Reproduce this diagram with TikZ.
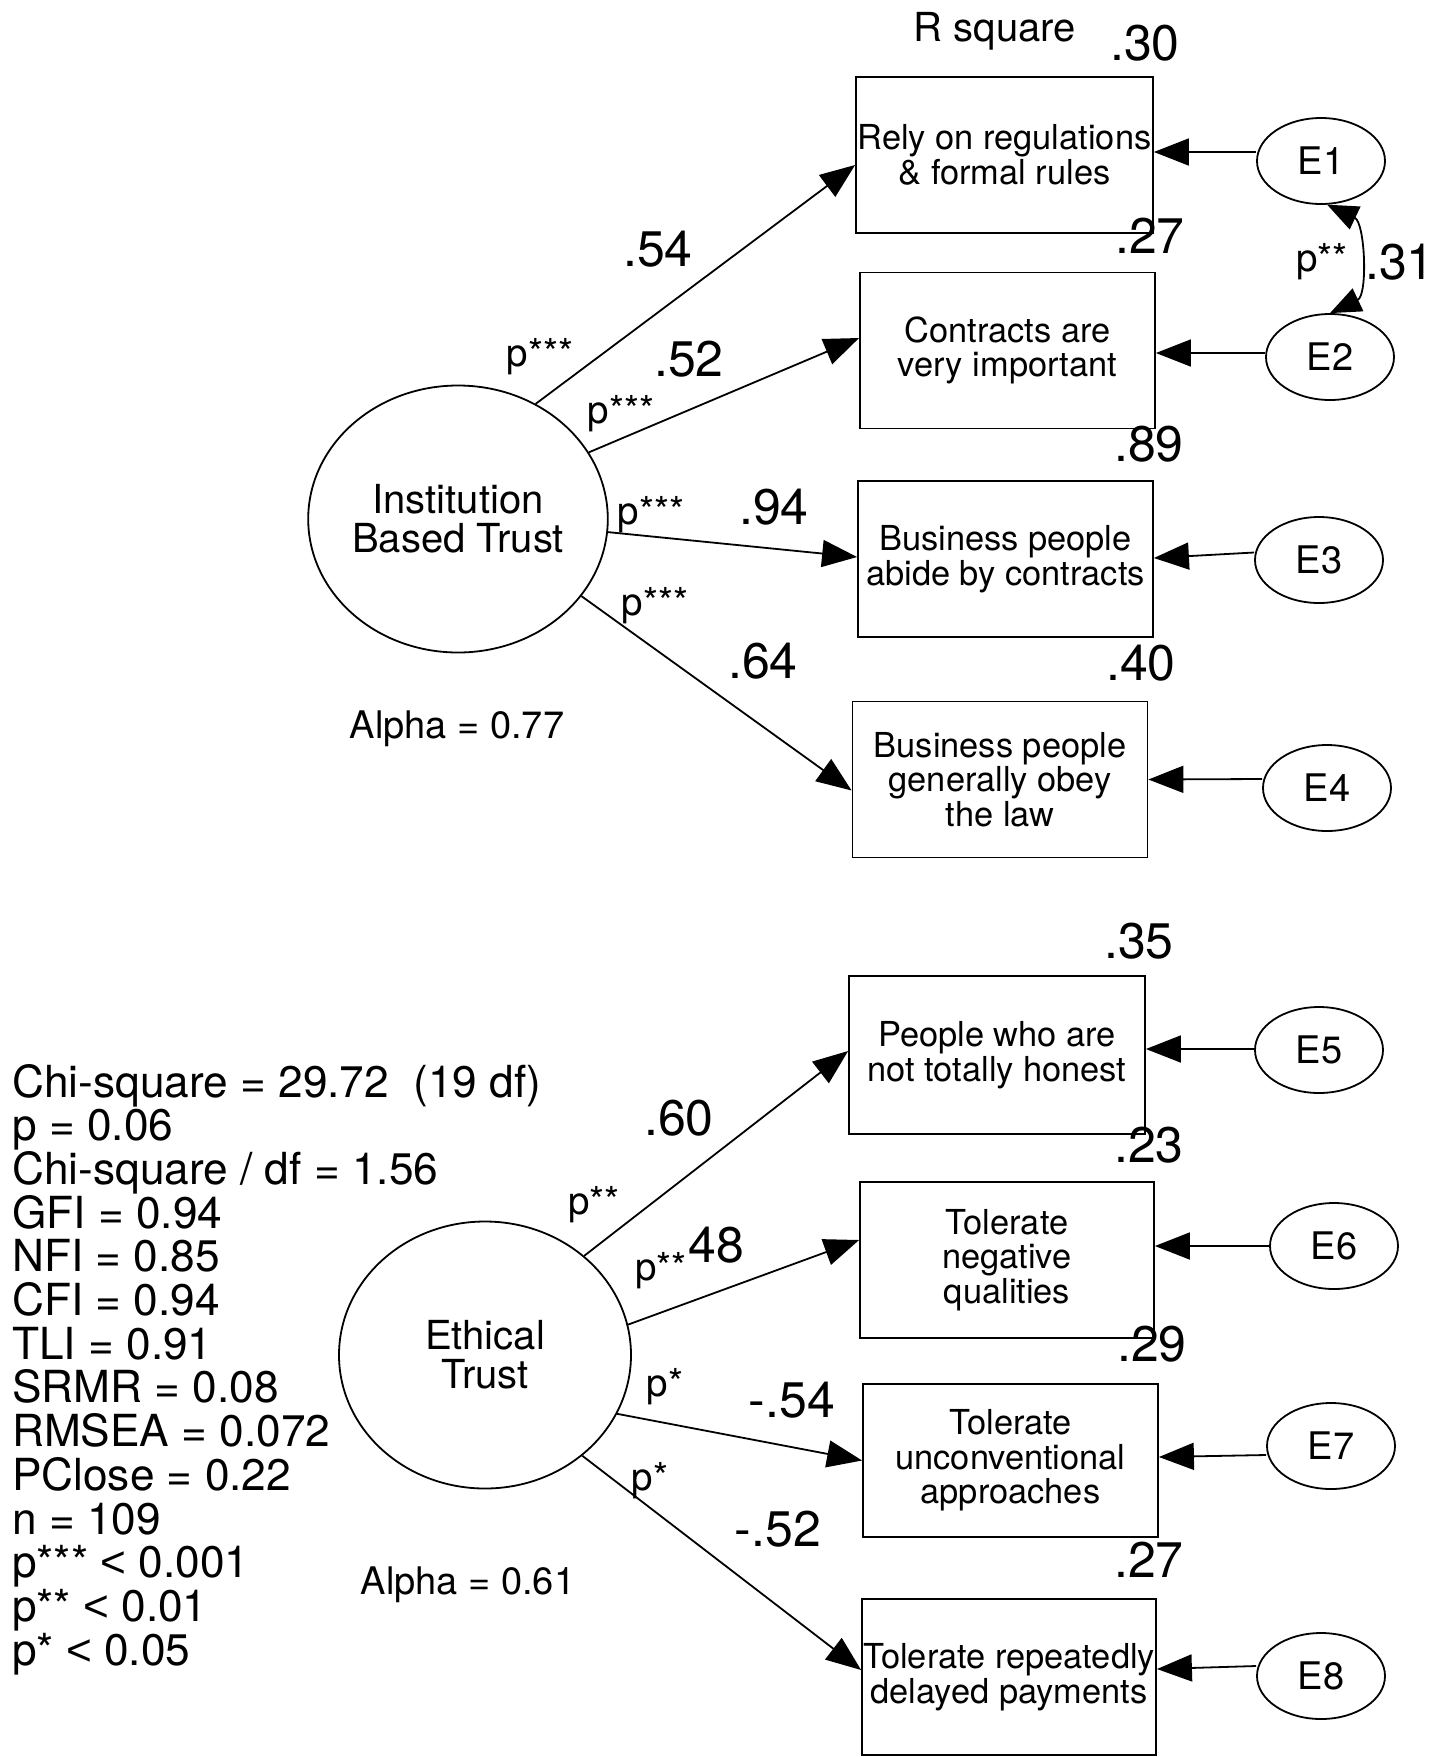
\documentclass[tikz,border=0pt]{standalone}
\usepackage{fontspec}
\setmainfont{TeX Gyre Heros}
\newfontfamily\ltsans{Liberation Sans}
\usetikzlibrary{shapes.geometric,arrows.meta}
\newcommand{\lessthan}{{\ltsans <}}
\begin{document}
\begin{tikzpicture}[x=1pt,y=-1pt,
  box/.style={draw, line width=1.8pt, rectangle, inner sep=0pt, align=center,
    minimum width=295pt, minimum height=156pt, font=\fontsize{34.4}{34.5}\selectfont},
  latent/.style={draw, ellipse, line width=1.8pt, inner sep=0pt, align=center,
    minimum width=292pt, minimum height=267pt, font=\fontsize{40}{39}\selectfont},
  err/.style={draw, ellipse, line width=1.8pt, inner sep=0pt,
    minimum width=128pt, minimum height=86pt, font=\fontsize{38}{38}\selectfont},
  coef/.style={inner sep=0pt, font=\fontsize{50}{50}\selectfont},
  sig/.style={inner sep=0pt, font=\fontsize{38.5}{38.5}\selectfont},
  alphalbl/.style={inner sep=0pt, font=\fontsize{38}{38}\selectfont},
  stat/.style={inner sep=0pt, font=\fontsize{44.2}{44.2}\selectfont},
  pathar/.style={line width=1.8pt, -{Triangle[length=35pt,width=27pt]}},
  corr/.style={line width=1.8pt, {Triangle[length=31pt,width=25pt]}-{Triangle[length=31pt,width=25pt]}}
]
\useasboundingbox (0,0) rectangle (1450,1757);
\fill[white] (0,0) rectangle (1450,1757);

% ---------- top model ----------
\node[latent] (IBT) at (458,519) {Institution\\Based Trust};
\node[box, minimum width=297pt] (B1) at (1004.5,155) {Rely on regulations\\\& formal rules};
\node[box] (B2) at (1007.5,350.5) {Contracts are\\very important};
\node[box] (B3) at (1005.5,559) {Business people\\abide by contracts};
\node[box] (B4) at (1000,779.5) {Business people\\generally obey\\the law};

\node[err] (E1) at (1321,161) {E1};
\node[err] (E2) at (1330,357) {E2};
\node[err] (E3) at (1319,560) {E3};
\node[err] (E4) at (1327,788) {E4};

\draw[pathar] (IBT.56) -- ([yshift=-10pt]B1.west);
\draw[pathar] (IBT.27) -- ([yshift=12.5pt]B2.west);
\draw[pathar] (IBT.-5) -- ([yshift=2pt]B3.west);
\draw[pathar] (IBT.-32) -- ([yshift=-11pt]B4.west);

\draw[pathar] ([yshift=9pt]E1.west) -- ([yshift=3pt]B1.east);
\draw[pathar] ([yshift=4pt]E2.west) -- ([yshift=-2.5pt]B2.east);
\draw[pathar] ([yshift=7.5pt]E3.west) -- ([yshift=1pt]B3.east);
\draw[pathar] ([yshift=9pt]E4.west) -- (B4.east);

\draw[corr] (E1.-82) .. controls +(38,18) and +(38,-18) .. (E2.north);

\node[alphalbl, font=\fontsize{40}{40}\selectfont] (rsq) at (995,31) {R square};
\node[coef] (r1) at (1145,43) {.30};
\node[coef] (r2) at (1150,236) {.27};
\node[coef] (r3) at (1149,444) {.89};
\node[coef] (r4) at (1141,663) {.40};

\node[coef] (c1) at (658,249) {.54};
\node[sig] (p1) at (540,357) {p***};
\node[coef] (c2) at (689,359) {.52};
\node[sig] (p2) at (621,414) {p***};
\node[coef] (c3) at (774,507) {.94};
\node[sig] (p3) at (651,515) {p***};
\node[sig] (p4) at (655,606) {p***};
\node[coef] (c4) at (763,661) {.64};
\node[alphalbl] (a1) at (457,729) {Alpha = 0.77};

\node[sig] (pc) at (1322,262) {p**};
\node[coef] (cc) at (1400,262) {.31};

% ---------- bottom model ----------
\node[latent] (ET) at (485,1355) {Ethical\\Trust};
\node[box, minimum width=296pt, minimum height=158pt] (B5) at (997,1055) {People who are\\not totally honest};
\node[box, minimum width=294pt] (B6) at (1007,1260) {Tolerate\\negative\\qualities};
\node[box, minimum height=153pt] (B7) at (1010.5,1460.5) {Tolerate\\unconventional\\approaches};
\node[box, minimum width=294pt] (B8) at (1009,1677) {Tolerate repeatedly\\delayed payments};

\node[err] (E5) at (1319,1050) {E5};
\node[err] (E6) at (1334,1246) {E6};
\node[err] (E7) at (1331,1446) {E7};
\node[err] (E8) at (1321,1676) {E8};

\draw[pathar] (ET.45) -- ([yshift=4pt]B5.west);
\draw[pathar] (ET.12) -- ([yshift=20pt]B6.west);
\draw[pathar] (ET.-24.6) -- (B7.west);
\draw[pathar] (ET.-46.7) -- ([yshift=7pt]B8.west);

\draw[pathar] ([yshift=1pt]E5.west) -- ([yshift=6pt]B5.east);
\draw[pathar] (E6.west) -- ([yshift=14pt]B6.east);
\draw[pathar] ([yshift=-9pt]E7.west) -- ([yshift=3.5pt]B7.east);
\draw[pathar] ([yshift=10pt]E8.west) -- ([yshift=8pt]B8.east);

\node[coef] (r5) at (1139,941) {.35};
\node[coef] (r6) at (1149,1145) {.23};
\node[coef] (r7) at (1152,1344) {.29};
\node[coef] (r8) at (1149,1560) {.27};

\node[coef] (c5) at (679,1118) {.60};
\node[sig] (p5) at (594,1205) {p**};
\node[sig] (p6) at (661,1271) {p**};
\node[coef] (c6) at (716,1245) {48};
\node[sig] (p7) at (665,1387) {p*};
\node[coef] (c7) at (792,1400) {-.54};
\node[sig] (p8) at (650,1481) {p*};
\node[coef] (c8) at (778,1529) {-.52};
\node[alphalbl] (a2) at (468,1585) {Alpha = 0.61};

% ---------- fit statistics ----------
\foreach \t [count=\i] in {Chi-square = 29.72~~(19 df), p = 0.06, Chi-square / df = 1.56,
  GFI = 0.94, NFI = 0.85, CFI = 0.94, TLI = 0.91, SRMR = 0.08, RMSEA = 0.072,
  PClose = 0.22, n = 109, p*** \lessthan{} 0.001, p** \lessthan{} 0.01, p* \lessthan{} 0.05}
  \node[stat, anchor=base west] (s\i) at (12,{1097+43.7*(\i-1)}) {\t};
\end{tikzpicture}
\end{document}
